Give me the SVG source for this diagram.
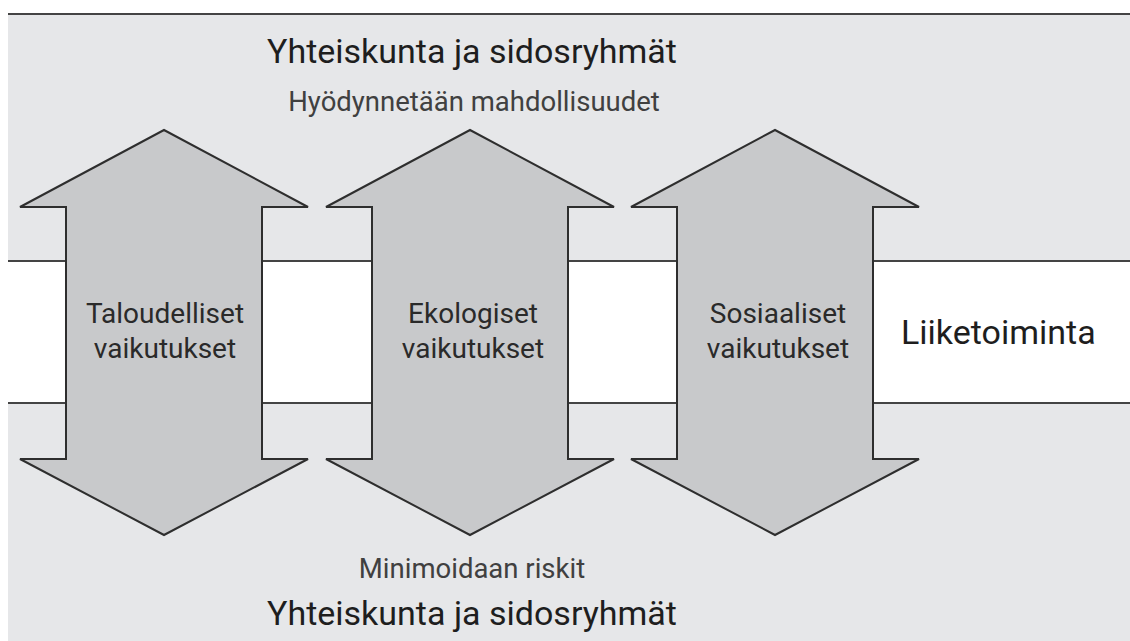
<svg xmlns="http://www.w3.org/2000/svg" width="1130" height="641" viewBox="0 0 1130 641">
  <style>
    .arrow { fill: #c8c9cb; stroke: #2e2e2e; stroke-width: 2; stroke-linejoin: miter; }
    .line { stroke: #444; stroke-width: 2; fill: none; }
    .lbl { font-family: Roboto, "Liberation Sans", sans-serif; font-size: 28px; fill: #2a2a2a; text-anchor: middle; }
    .title { font-family: Roboto, "Liberation Sans", sans-serif; font-size: 34px; fill: #1e1e1e; text-anchor: middle; }
    .sub { font-family: Roboto, "Liberation Sans", sans-serif; font-size: 27.5px; fill: #404040; text-anchor: middle; }
    .biz { font-family: Roboto, "Liberation Sans", sans-serif; font-size: 34px; fill: #1e1e1e; }
  </style>
  <defs>
    <polygon id="dblArrow" points="164,130 308,207 262,207 262,459 308,459 164,535 20,459 66,459 66,207 20,207"/>
  </defs>
  <rect x="0" y="0" width="1130" height="641" fill="#ffffff"/>
  <g id="background">
    <rect x="8" y="14" width="1122" height="627" fill="#e6e7e9"/>
    <line class="line" x1="8" y1="14" x2="1130" y2="14"/>
    <rect x="8" y="261" width="1122" height="142" fill="#ffffff"/>
  </g>
  <g id="connectors">
    <line class="line" x1="8" y1="261" x2="1130" y2="261"/>
    <line class="line" x1="8" y1="403" x2="1130" y2="403"/>
  </g>
  <g id="arrow-taloudelliset">
    <use href="#dblArrow" class="arrow"/>
    <text class="lbl" x="165" y="323">Taloudelliset</text>
    <text class="lbl" x="165" y="358">vaikutukset</text>
  </g>
  <g id="arrow-ekologiset" transform="translate(306,0)">
    <use href="#dblArrow" class="arrow"/>
    <text class="lbl" x="167" y="323">Ekologiset</text>
    <text class="lbl" x="167" y="358">vaikutukset</text>
  </g>
  <g id="arrow-sosiaaliset" transform="translate(611,0)">
    <use href="#dblArrow" class="arrow"/>
    <text class="lbl" x="167" y="323">Sosiaaliset</text>
    <text class="lbl" x="167" y="358">vaikutukset</text>
  </g>
  <g id="liiketoiminta">
    <text class="biz" x="901" y="344">Liiketoiminta</text>
  </g>
  <g id="top-labels">
    <text class="title" x="472" y="63">Yhteiskunta ja sidosryhmät</text>
    <text class="sub" x="474" y="111">Hyödynnetään mahdollisuudet</text>
  </g>
  <g id="bottom-labels">
    <text class="sub" x="472" y="578">Minimoidaan riskit</text>
    <text class="title" x="472" y="625">Yhteiskunta ja sidosryhmät</text>
  </g>
</svg>
